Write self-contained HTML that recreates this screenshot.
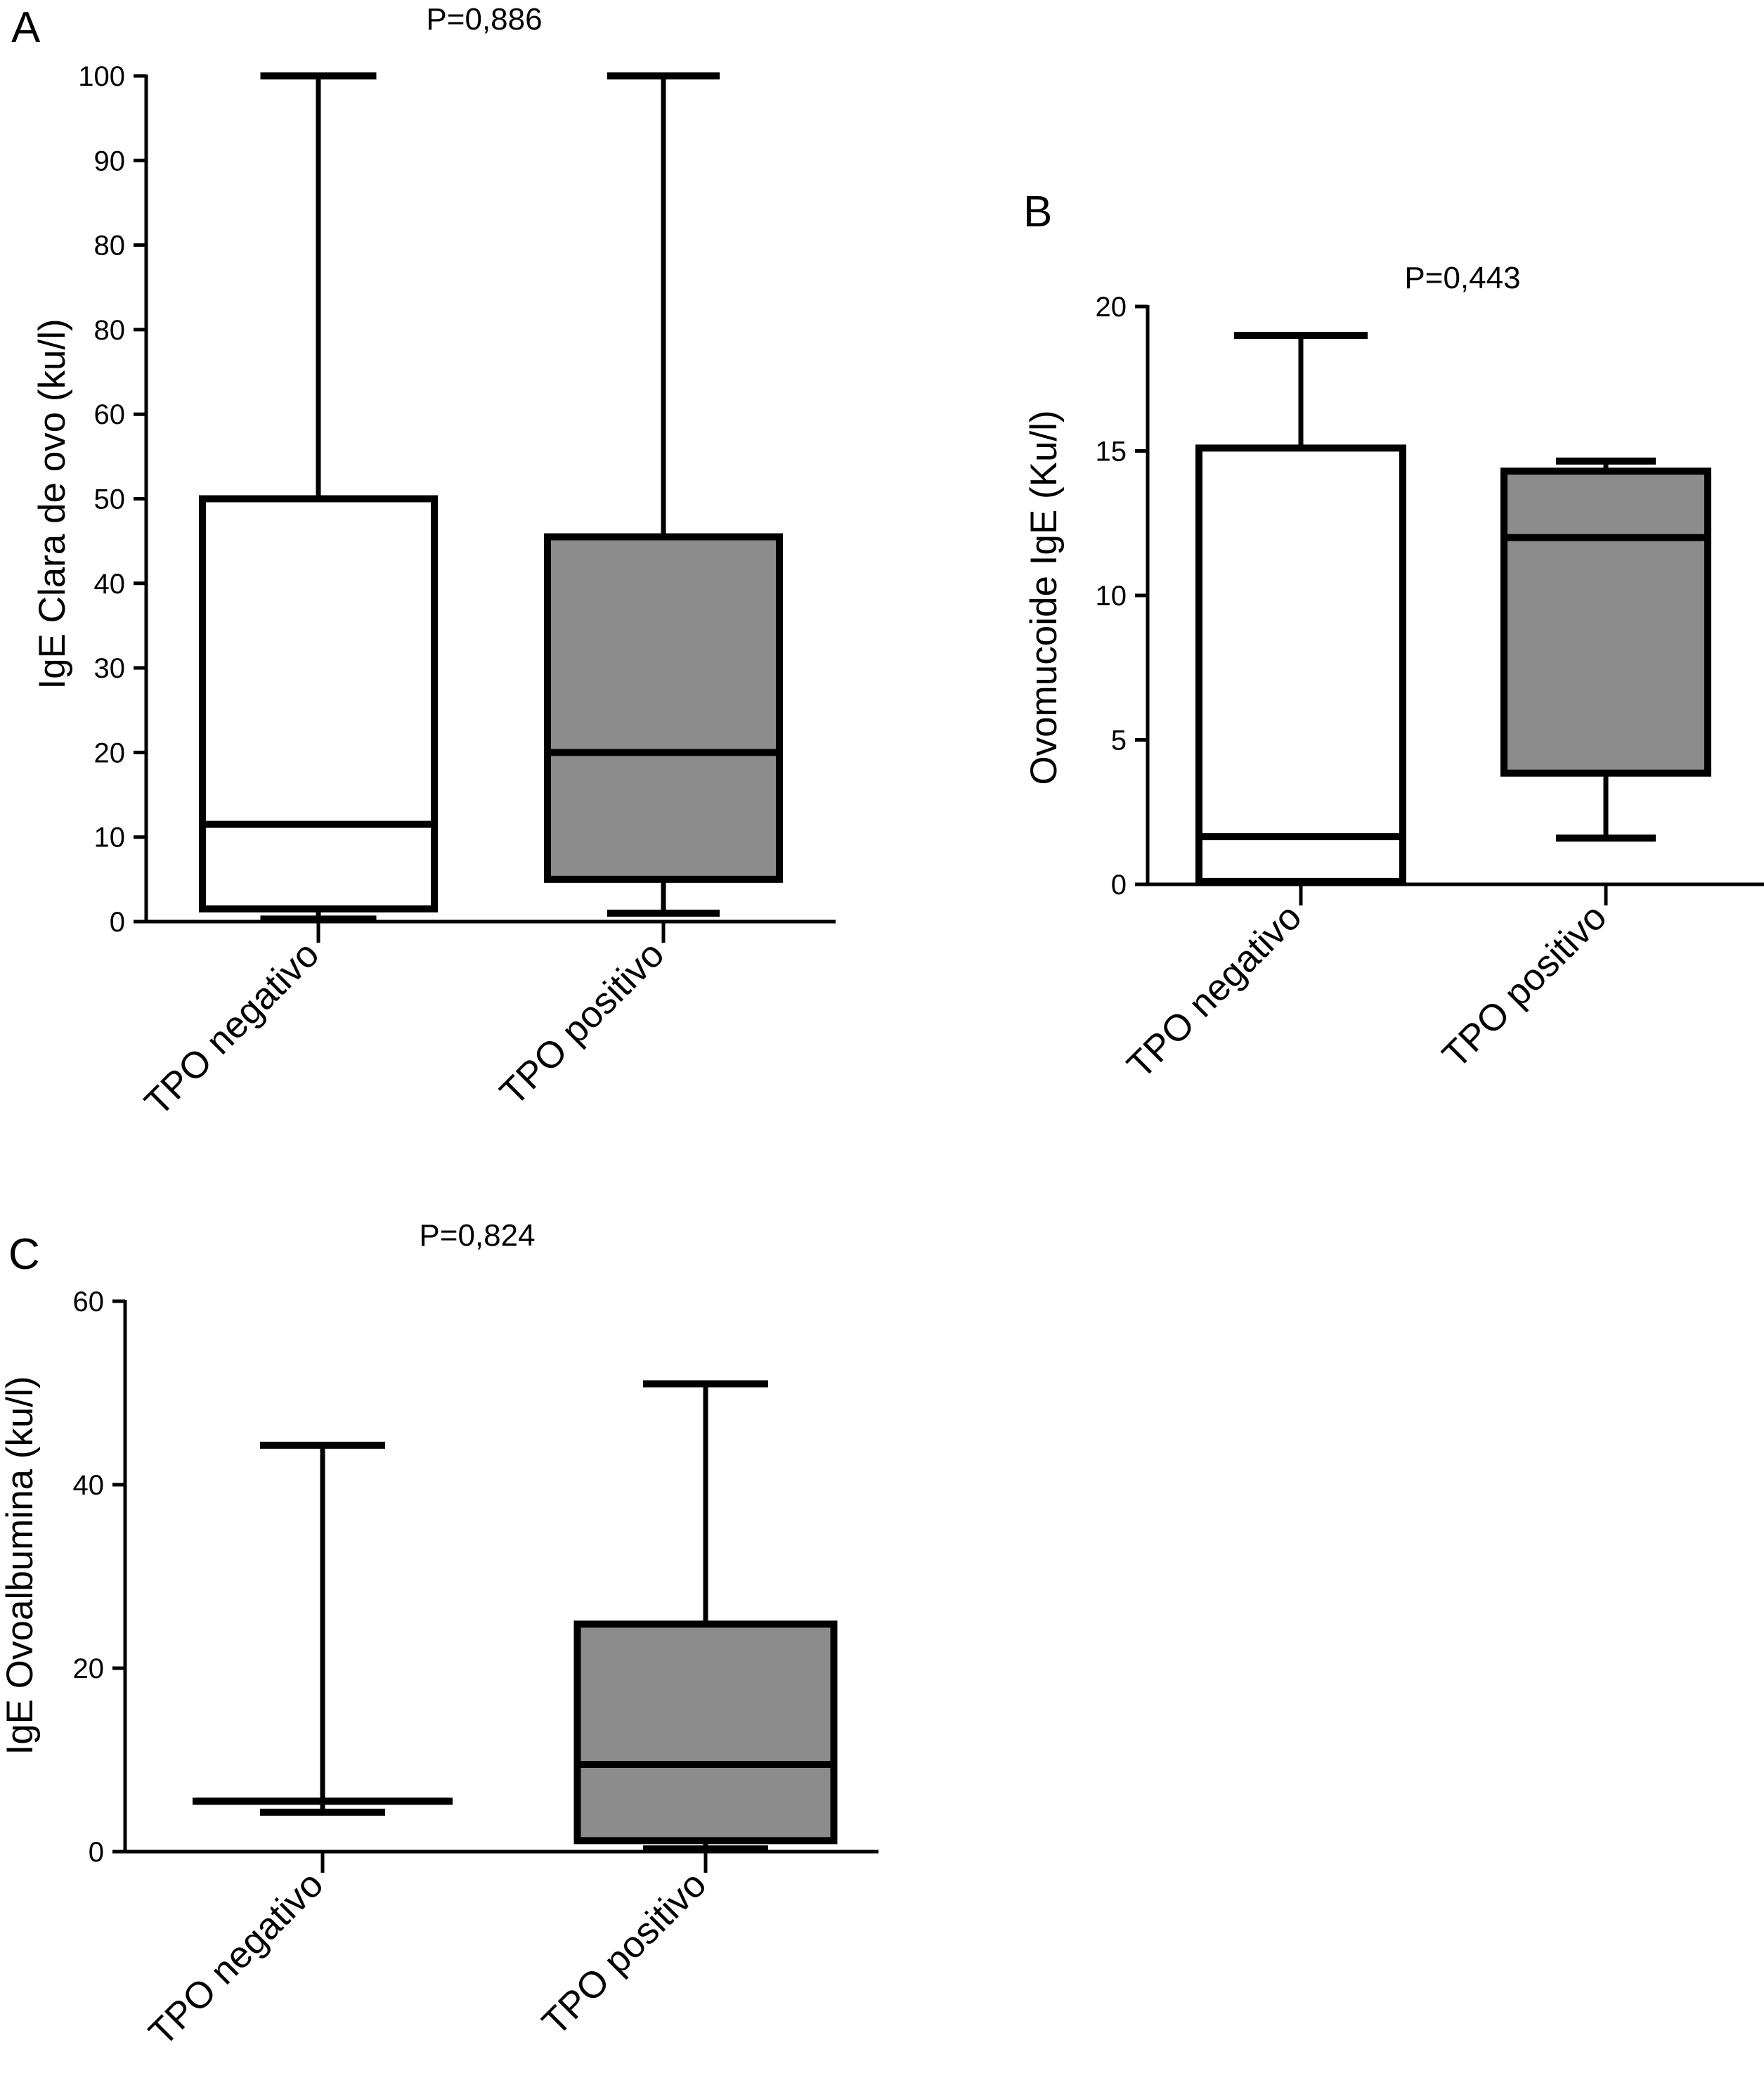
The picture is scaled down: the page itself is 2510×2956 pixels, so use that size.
<!DOCTYPE html>
<html><head><meta charset="utf-8"><style>
html,body{margin:0;padding:0;background:#fff;}
svg{display:block;font-family:"Liberation Sans",Arial,sans-serif;}
</style></head><body>
<svg id="fig" width="2510" height="2956" viewBox="0 0 2510 2956" xmlns="http://www.w3.org/2000/svg"></svg>
<script>
// Panel A data
const aCategories = ["TPO negativo", "TPO positivo"];
const aMin = [0.3, 1];
const aQ1 = [1.5, 5];
const aMedian = [11.5, 20];
const aQ3 = [50, 45.5];
const aMax = [100, 100];
const aTickLabels = ["0","10","20","30","40","50","60","80","80","90","100"];
const aTickValues = [0,10,20,30,40,50,60,70,80,90,100];
// Panel B data
const bCategories = ["TPO negativo", "TPO positivo"];
const bMin = [0.1, 1.6];
const bQ1 = [0.1, 3.85];
const bMedian = [1.65, 12];
const bQ3 = [15.1, 14.3];
const bMax = [19, 14.65];
const bTickValues = [0,5,10,15,20];
// Panel C data
const cCategories = ["TPO negativo", "TPO positivo"];
const cMin = [4.3, 0.3];
const cQ1 = [5.5, 1.2];
const cMedian = [5.5, 9.5];
const cQ3 = [5.5, 24.8];
const cMax = [44.3, 51];
const cTickValues = [0,20,40,60];

const NS = "http://www.w3.org/2000/svg";
const svg = document.getElementById('fig');
function mk(tag, attrs, parent){
  const e = document.createElementNS(NS, tag);
  for (const k in attrs) e.setAttribute(k, attrs[k]);
  (parent||svg).appendChild(e);
  return e;
}

function panel(cfg){
  const g = mk('g', {});
  
  
  const yS = v => cfg.y0 - (v - cfg.vmin) / (cfg.vmax - cfg.vmin) * (cfg.y0 - cfg.y1);
  const L = mk('text', {x: cfg.letterX, y: cfg.letterY, 'font-size': 62, fill: '#000'}, g);
  L.textContent = cfg.id.toUpperCase();
  
  
  const P = mk('text', {x: cfg.pX, y: cfg.pY, 'font-size': 44, 'text-anchor': 'middle', fill: '#000'}, g);
  P.textContent = cfg.p;
  
  
  const ya = mk('line', {x1: cfg.ax, y1: yS(cfg.vmax) - 2, x2: cfg.ax, y2: cfg.y0 + 2, stroke: '#000', 'stroke-width': 5}, g);
  
  
  const xa = mk('line', {x1: cfg.ax - 18, y1: cfg.y0, x2: cfg.axEnd, y2: cfg.y0, stroke: '#000', 'stroke-width': 5}, g);
  
  
  cfg.ticks.forEach((v, i) => {
    const y = yS(v);
    const t = mk('line', {x1: cfg.ax - 18, y1: y, x2: cfg.ax, y2: y, stroke: '#000', 'stroke-width': 5}, g);
    
    
    const tl = mk('text', {x: cfg.ax - 30, y: y + 14, 'font-size': 40, 'text-anchor': 'end', fill: '#000'}, g);
    tl.textContent = cfg.tickLabels ? cfg.tickLabels[i] : String(v);
    
    
  });
  const yt = mk('text', {x: 0, y: 0, 'font-size': 53, 'text-anchor': 'middle', fill: '#000', transform: `translate(${cfg.ytX},${cfg.ytY}) rotate(-90)`}, g);
  yt.textContent = cfg.yTitle;
  
  
  cfg.cats.forEach((c, i) => {
    const cx = cfg.cx[i], hw = cfg.boxW[i] / 2, cw = cfg.capW[i] / 2;
    const fill = i === 0 ? '#ffffff' : '#8c8c8c';
    const bg = mk('g', {}, g);
    
    
    const sw = 10;
    mk('line', {x1: cx, y1: yS(cfg.max[i]), x2: cx, y2: yS(cfg.q3[i]), stroke: '#000', 'stroke-width': 7}, bg);
    mk('line', {x1: cx, y1: yS(cfg.q1[i]), x2: cx, y2: yS(cfg.min[i]), stroke: '#000', 'stroke-width': 7}, bg);
    mk('line', {x1: cx - cw, y1: yS(cfg.max[i]), x2: cx + cw, y2: yS(cfg.max[i]), stroke: '#000', 'stroke-width': sw}, bg);
    mk('line', {x1: cx - cw, y1: yS(cfg.min[i]), x2: cx + cw, y2: yS(cfg.min[i]), stroke: '#000', 'stroke-width': sw}, bg);
    const top = yS(cfg.q3[i]), bot = yS(cfg.q1[i]);
    mk('rect', {x: cx - hw, y: top, width: 2 * hw, height: Math.max(bot - top, 0.1), fill: fill, stroke: '#000', 'stroke-width': sw}, bg);
    mk('line', {x1: cx - hw, y1: yS(cfg.med[i]), x2: cx + hw, y2: yS(cfg.med[i]), stroke: '#000', 'stroke-width': sw}, bg);
    const xt = mk('line', {x1: cx, y1: cfg.y0, x2: cx, y2: cfg.y0 + 30, stroke: '#000', 'stroke-width': 5}, g);
    
    
    const lx = cx + 4, ly = cfg.y0 + 50;
    const xl = mk('text', {x: 0, y: 0, 'font-size': 53, 'text-anchor': 'end', fill: '#000', transform: `translate(${lx},${ly}) rotate(-45)`}, g);
    xl.textContent = c;
    
    
  });
}

panel({id: 'a', letterX: 16, letterY: 60, p: 'P=0,886', pX: 689, pY: 42,
  ax: 208, axEnd: 1189, y0: 1311, y1: 108, vmin: 0, vmax: 100,
  ticks: aTickValues, tickLabels: aTickLabels, ytX: 92, ytY: 717,
  yTitle: 'IgE Clara de ovo (ku/l)', cats: aCategories, cx: [453, 944],
  boxW: [330, 330], capW: [165, 160],
  min: aMin, q1: aQ1, med: aMedian, q3: aQ3, max: aMax});

panel({id: 'b', letterX: 1456, letterY: 322, p: 'P=0,443', pX: 2081, pY: 410,
  ax: 1633, axEnd: 2510, y0: 1258, y1: 436, vmin: 0, vmax: 20,
  ticks: bTickValues, ytX: 1503, ytY: 850,
  yTitle: 'Ovomucoide IgE (Ku/l)', cats: bCategories, cx: [1851, 2285],
  boxW: [290, 290], capW: [190, 142],
  min: bMin, q1: bQ1, med: bMedian, q3: bQ3, max: bMax});

panel({id: 'c', letterX: 12, letterY: 1805, p: 'P=0,824', pX: 679, pY: 1772,
  ax: 178, axEnd: 1250, y0: 2634, y1: 1851, vmin: 0, vmax: 60,
  ticks: cTickValues, ytX: 46, ytY: 2227,
  yTitle: 'IgE Ovoalbumina (ku/l)', cats: cCategories, cx: [459, 1004],
  boxW: [360, 365], capW: [178, 178],
  min: cMin, q1: cQ1, med: cMedian, q3: cQ3, max: cMax});
</script>
</body></html>
